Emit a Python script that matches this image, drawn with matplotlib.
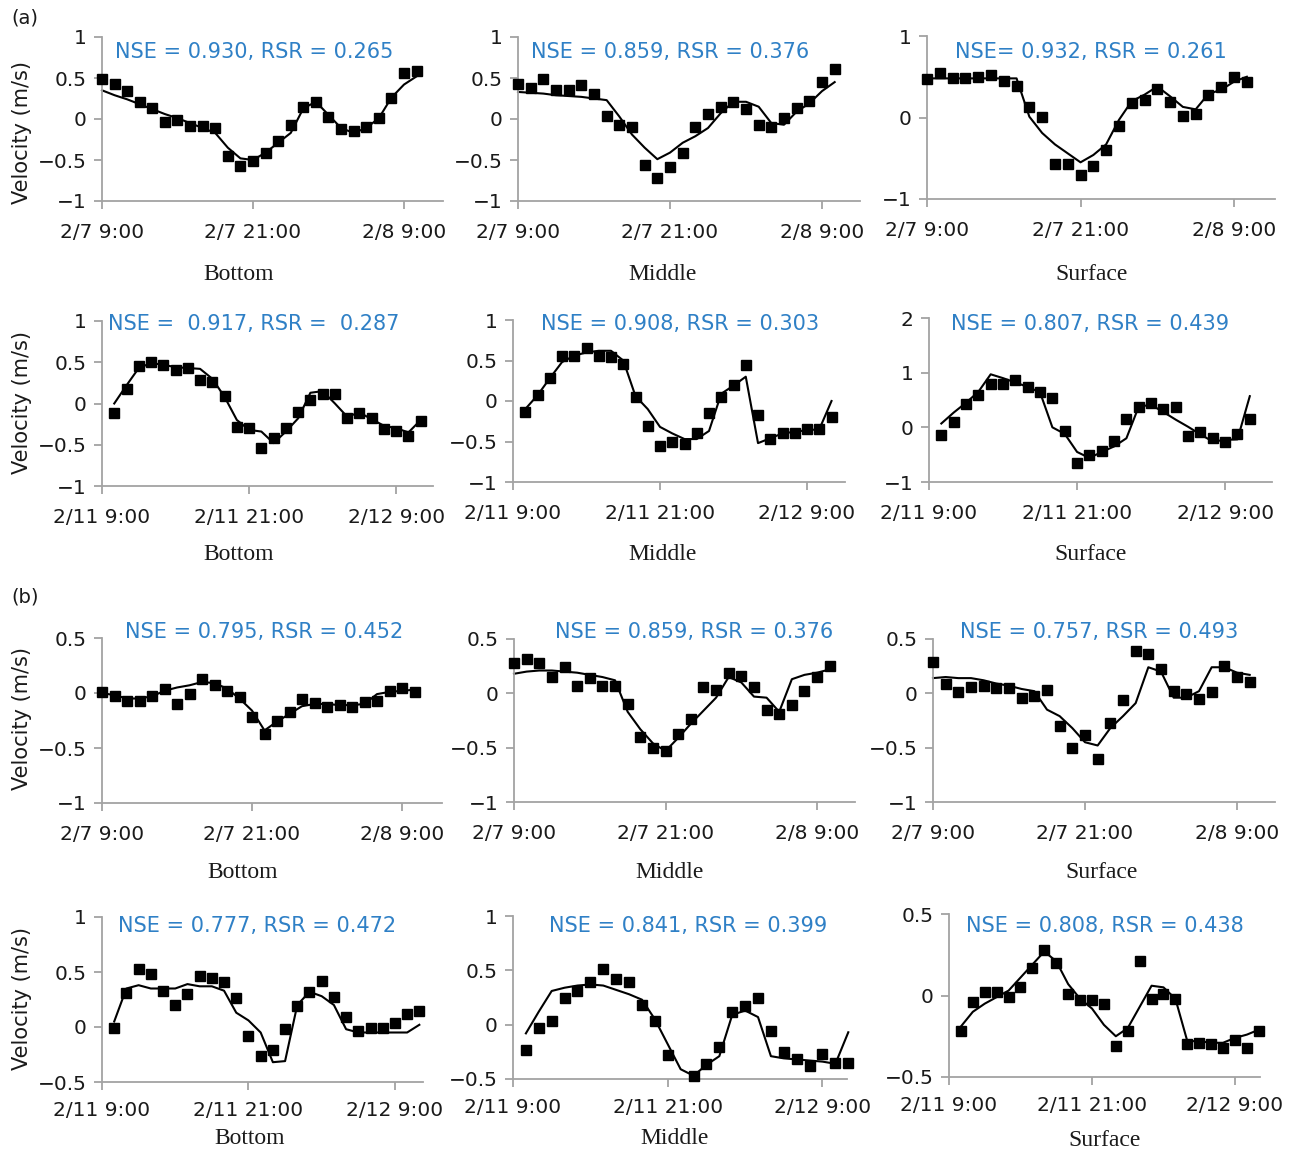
import numpy as np
import matplotlib
matplotlib.use("Agg")
import matplotlib.pyplot as plt
from matplotlib.ticker import FuncFormatter

nan = np.nan

# ---- tick labels ----
dates_07 = ["2/7 9:00", "2/7 21:00", "2/8 9:00"]
dates_11 = ["2/11 9:00", "2/11 21:00", "2/12 9:00"]
tick_hours = [0, 12, 24]

# ---- (a) 2/7 series, hourly from 9:00 (hour 0..25) ----
a_bot_07_obs = [0.49, 0.43, 0.34, 0.21, 0.14, -0.04, -0.01, -0.08, -0.08, -0.11, -0.45, -0.57, -0.51,
                -0.41, -0.27, -0.07, 0.15, 0.21, 0.03, -0.12, -0.15, -0.10, 0.01, 0.26, 0.56, 0.59]
a_bot_07_mod = [0.35, 0.29, 0.24, 0.18, 0.12, 0.06, 0.01, -0.05, -0.11, -0.17, -0.35, -0.48, -0.50,
                -0.41, -0.29, -0.17, 0.13, 0.21, 0.05, -0.11, -0.17, -0.11, 0.01, 0.26, 0.42, 0.52]
a_mid_07_obs = [0.43, 0.38, 0.49, 0.35, 0.35, 0.41, 0.30, 0.04, -0.07, -0.10, -0.56, -0.72, -0.58,
                -0.41, -0.10, 0.06, 0.15, 0.21, 0.12, -0.07, -0.10, 0.01, 0.13, 0.22, 0.45, 0.61]
a_mid_07_mod = [0.33, 0.32, 0.31, 0.29, 0.28, 0.27, 0.25, 0.23, 0.03, -0.19, -0.35, -0.49, -0.41,
                -0.29, -0.21, -0.11, 0.07, 0.21, 0.21, 0.15, -0.05, -0.07, 0.09, 0.19, 0.34, 0.45]
a_sur_07_obs = [0.47, 0.54, 0.48, 0.48, 0.50, 0.52, 0.45, 0.39, 0.13, 0.01, -0.57, -0.57, -0.70,
                -0.60, -0.40, -0.10, 0.18, 0.22, 0.35, 0.19, 0.02, 0.04, 0.28, 0.38, 0.50, 0.44]
a_sur_07_mod = [0.48, 0.48, 0.48, 0.48, 0.48, 0.48, 0.48, 0.48, 0.01, -0.19, -0.33, -0.44, -0.55,
                -0.46, -0.33, -0.03, 0.20, 0.28, 0.38, 0.26, 0.13, 0.10, 0.29, 0.34, 0.44, 0.50]

# ---- (a) 2/11 series, hourly from 10:00 (hour 1..26) ----
a_bot_11_obs = [-0.11, 0.17, 0.45, 0.50, 0.47, 0.41, 0.43, 0.28, 0.26, 0.09, -0.28, -0.30, -0.54,
                -0.42, -0.30, -0.10, 0.04, 0.12, 0.12, -0.17, -0.12, -0.17, -0.31, -0.33, -0.39, -0.21]
a_bot_11_mod = [0.00, 0.22, 0.43, 0.49, 0.47, 0.44, 0.43, 0.42, 0.30, 0.08, -0.20, -0.32, -0.34,
                -0.48, -0.34, -0.18, 0.13, 0.15, 0.00, -0.16, -0.11, -0.19, -0.27, -0.30, -0.35, -0.20]
a_mid_11_obs = [-0.14, 0.08, 0.28, 0.55, 0.55, 0.66, 0.56, 0.54, 0.46, 0.05, -0.31, -0.56, -0.51,
                -0.53, -0.39, -0.15, 0.05, 0.20, 0.44, -0.17, -0.47, -0.39, -0.39, -0.34, -0.34, -0.20]
a_mid_11_mod = [-0.10, 0.07, 0.28, 0.48, 0.56, 0.60, 0.62, 0.62, 0.50, 0.06, -0.10, -0.32, -0.40,
                -0.47, -0.47, -0.37, 0.09, 0.19, 0.30, -0.52, -0.46, -0.40, -0.38, -0.36, -0.35, 0.00]
a_sur_11_obs = [-0.14, 0.09, 0.43, 0.60, 0.80, 0.80, 0.87, 0.74, 0.64, 0.53, -0.06, -0.66, -0.51,
                -0.43, -0.25, 0.15, 0.37, 0.45, 0.34, 0.38, -0.16, -0.09, -0.20, -0.27, -0.13, 0.15]
a_sur_11_mod = [0.07, 0.27, 0.45, 0.65, 0.97, 0.90, 0.82, 0.74, 0.64, 0.00, -0.12, -0.45, -0.56,
                -0.45, -0.35, -0.20, 0.38, 0.41, 0.28, 0.14, 0.01, -0.13, -0.26, -0.23, -0.22, 0.57]

# ---- (b) 2/7 series, hourly from 9:00 (hour 0..25) ----
b_bot_07_obs = [0.01, -0.03, -0.07, -0.07, -0.03, 0.04, -0.10, -0.01, 0.13, 0.07, 0.02, -0.04, -0.22,
                -0.37, -0.25, -0.17, -0.05, -0.09, -0.13, -0.11, -0.13, -0.08, -0.07, 0.02, 0.05, 0.01]
b_bot_07_mod = [0.00, -0.02, -0.05, -0.05, -0.03, 0.02, 0.05, 0.07, 0.10, 0.09, 0.04, -0.05, -0.16,
                -0.34, -0.26, -0.19, -0.12, -0.10, -0.10, -0.11, -0.11, -0.10, -0.01, 0.01, 0.02, 0.03]
b_mid_07_obs = [0.28, 0.32, 0.28, 0.15, 0.24, 0.07, 0.14, 0.07, 0.07, -0.10, -0.40, -0.50, -0.53,
                -0.37, -0.24, 0.06, 0.03, 0.19, 0.16, 0.06, -0.15, -0.19, -0.11, 0.02, 0.15, 0.25]
b_mid_07_mod = [0.18, 0.20, 0.21, 0.21, 0.20, 0.19, 0.17, 0.15, 0.12, -0.17, -0.33, -0.46, -0.53,
                -0.41, -0.28, -0.16, -0.04, 0.15, 0.10, -0.03, -0.04, -0.17, 0.13, 0.17, 0.19, 0.22]
b_sur_07_obs = [0.29, 0.09, 0.01, 0.06, 0.07, 0.05, 0.05, -0.04, -0.02, 0.03, -0.30, -0.50, -0.38,
                -0.60, -0.27, -0.06, 0.39, 0.36, 0.22, 0.02, -0.01, -0.05, 0.01, 0.25, 0.15, 0.10]
b_sur_07_mod = [0.14, 0.15, 0.14, 0.14, 0.12, 0.09, 0.07, 0.04, 0.02, -0.15, -0.21, -0.32, -0.45,
                -0.48, -0.32, -0.21, -0.09, 0.24, 0.20, -0.04, -0.04, 0.02, 0.24, 0.24, 0.19, 0.17]

# ---- (b) 2/11 series, hourly from 10:00 (hour 1..26) ----
b_bot_11_obs = [-0.01, 0.31, 0.53, 0.48, 0.33, 0.20, 0.30, 0.46, 0.45, 0.41, 0.26, -0.08, -0.26,
                -0.21, -0.02, 0.19, 0.32, 0.42, 0.27, 0.09, -0.04, -0.01, -0.01, 0.04, 0.12, 0.15]
b_bot_11_mod = [0.05, 0.35, 0.38, 0.35, 0.35, 0.35, 0.39, 0.37, 0.37, 0.33, 0.13, 0.06, -0.05,
                -0.32, -0.31, 0.20, 0.32, 0.28, 0.20, -0.02, -0.05, -0.05, -0.05, -0.05, -0.05, 0.02]
b_mid_11_obs = [-0.23, -0.03, 0.03, 0.25, 0.31, 0.39, 0.51, 0.42, 0.39, 0.18, 0.03, -0.28, nan,
                -0.47, -0.36, -0.21, 0.12, 0.17, 0.25, -0.06, -0.25, -0.32, -0.38, -0.27, -0.35, -0.35]
b_mid_11_mod = [-0.08, 0.12, 0.31, 0.34, 0.36, 0.37, 0.36, 0.32, 0.28, 0.23, 0.05, -0.18, -0.41,
                -0.47, -0.37, -0.29, 0.09, 0.13, 0.07, -0.29, -0.31, -0.32, -0.33, -0.34, -0.36, -0.07]
b_sur_11_obs = [-0.22, -0.04, 0.02, 0.02, -0.01, 0.05, 0.17, 0.28, 0.20, 0.01, -0.03, -0.03, -0.05,
                -0.31, -0.22, 0.21, -0.02, 0.01, -0.02, -0.30, -0.29, -0.30, -0.32, -0.27, -0.32, -0.22]
b_sur_11_mod = [-0.19, -0.10, -0.05, -0.01, 0.03, 0.11, 0.19, 0.27, 0.21, 0.07, -0.02, -0.08, -0.18,
                -0.25, -0.20, -0.07, 0.06, 0.05, -0.02, -0.28, -0.28, -0.29, -0.29, -0.26, -0.24, -0.21]

stats = ["NSE = 0.930, RSR = 0.265", "NSE = 0.859, RSR = 0.376", "NSE= 0.932, RSR = 0.261",
         "NSE =  0.917, RSR =  0.287", "NSE = 0.908, RSR = 0.303", "NSE = 0.807, RSR = 0.439",
         "NSE = 0.795, RSR = 0.452", "NSE = 0.859, RSR = 0.376", "NSE = 0.757, RSR = 0.493",
         "NSE = 0.777, RSR = 0.472", "NSE = 0.841, RSR = 0.399", "NSE = 0.808, RSR = 0.438"]
layers = ["Bottom", "Middle", "Surface"]

W, H = 1290, 1151
fig = plt.figure(figsize=(W / 100, H / 100), dpi=100)

# panel boxes in pixels: left, top, right, bottom
boxes = [(102, 37, 443, 201), (518, 37, 860, 201), (927, 36, 1275, 199),
         (102, 321, 433, 486), (513, 320, 845, 482), (929, 318, 1272, 482),
         (102, 638, 442, 803), (514, 639, 855, 802), (933, 639, 1275, 802),
         (102, 917, 423, 1082), (513, 916, 847, 1079), (949, 914, 1260, 1077)]
xmax = [27.1, 27.0, 27.2, 27.0, 27.1, 27.8, 27.2, 27.0, 27.0, 26.3, 25.9, 26.1]
ylims = [(-1, 1), (-1, 1), (-1, 1), (-1, 1), (-1, 1), (-1, 2),
         (-1, 0.5), (-1, 0.5), (-1, 0.5), (-0.5, 1), (-0.5, 1), (-0.5, 0.5)]
yticks = [[-1, -0.5, 0, 0.5, 1], [-1, -0.5, 0, 0.5, 1], [-1, 0, 1],
          [-1, -0.5, 0, 0.5, 1], [-1, -0.5, 0, 0.5, 1], [-1, 0, 1, 2],
          [-1, -0.5, 0, 0.5], [-1, -0.5, 0, 0.5], [-1, -0.5, 0, 0.5],
          [-0.5, 0, 0.5, 1], [-0.5, 0, 0.5, 1], [-0.5, 0, 0.5]]
series = [(a_bot_07_obs, a_bot_07_mod), (a_mid_07_obs, a_mid_07_mod), (a_sur_07_obs, a_sur_07_mod),
          (a_bot_11_obs, a_bot_11_mod), (a_mid_11_obs, a_mid_11_mod), (a_sur_11_obs, a_sur_11_mod),
          (b_bot_07_obs, b_bot_07_mod), (b_mid_07_obs, b_mid_07_mod), (b_sur_07_obs, b_sur_07_mod),
          (b_bot_11_obs, b_bot_11_mod), (b_mid_11_obs, b_mid_11_mod), (b_sur_11_obs, b_sur_11_mod)]
stat_pos = [(254, 52), (670, 52), (1091, 52), (254, 324), (680, 324), (1090, 324),
            (264, 632), (694, 632), (1099, 632), (257, 926), (688, 926), (1105, 926)]
sub_pos = [(239, 275), (663, 274), (1092, 275), (239, 554), (663, 554), (1091, 554),
           (243, 872), (670, 873), (1102, 872), (250, 1139), (675, 1139), (1105, 1140)]
ylabel_y = [133, 403, 719, 999]

gray = "#a3a3a3"
blue = "#2f80c6"
fmt = FuncFormatter(lambda v, p: f"{v:g}".replace("-", "\u2212"))

for i in range(12):
    l, t, r, b = boxes[i]
    ax = fig.add_axes([l / W, 1 - b / H, (r - l) / W, (b - t) / H])
    obs, mod = series[i]
    row = i // 3
    start = 0 if row in (0, 2) else 1
    hours = np.arange(start, start + len(obs))
    ax.plot(hours, mod, color="black", lw=1.5, zorder=2, clip_on=False)
    ax.plot(hours, obs, ls="none", marker="s", ms=6.5, color="black", zorder=3, clip_on=False)
    ax.set_xlim(0, xmax[i])
    ax.set_ylim(*ylims[i])
    ax.set_yticks(yticks[i])
    ax.yaxis.set_major_formatter(fmt)
    ax.set_xticks(tick_hours)
    ax.set_xticklabels(dates_07 if row in (0, 2) else dates_11)
    for s in ("top", "right"):
        ax.spines[s].set_visible(False)
    for s in ("left", "bottom"):
        ax.spines[s].set_color(gray)
        ax.spines[s].set_linewidth(1.3)
    ax.tick_params(axis="both", colors=gray, labelcolor="#1a1a1a", labelsize=14.5,
                   width=1.3, length=6, direction="out")
    ax.tick_params(axis="x", pad=10 if row < 3 else 7.5)
    ax.tick_params(axis="y", pad=5)
    ax.patch.set_alpha(0)

    sx, sy = stat_pos[i]
    fig.text(sx / W, 1 - sy / H, stats[i], color=blue, fontsize=15,
             ha="center", va="center")
    ux, uy = sub_pos[i]
    fig.text(ux / W, 1 - uy / H, layers[i % 3], fontsize=17, family="Liberation Serif",
             ha="center", va="center", color="#1a1a1a")

for y in ylabel_y:
    fig.text(22 / W, 1 - y / H, "Velocity (m/s)", rotation=90, fontsize=15,
             ha="center", va="center", color="#1a1a1a")

fig.text(25 / W, 1 - 18 / H, "(a)", fontsize=14, ha="center", va="center", color="#1a1a1a")
fig.text(25 / W, 1 - 597 / H, "(b)", fontsize=14, ha="center", va="center", color="#1a1a1a")

fig.savefig("out.png", dpi=100)
